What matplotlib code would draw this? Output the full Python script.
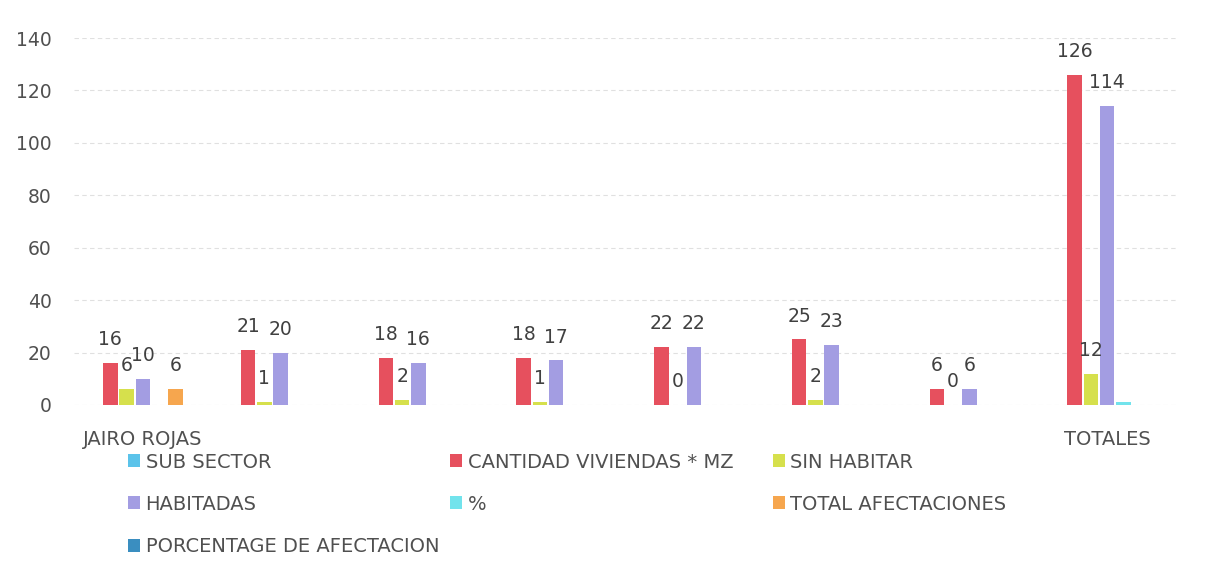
import numpy as np
import matplotlib
matplotlib.use("Agg")
import matplotlib.pyplot as plt
from matplotlib.patches import Patch

categories = ["JAIRO ROJAS", "", "", "", "", "", "", "TOTALES"]
series_names = ["SUB SECTOR", "CANTIDAD VIVIENDAS * MZ", "SIN HABITAR", "HABITADAS",
                "%", "TOTAL AFECTACIONES", "PORCENTAGE DE AFECTACION"]
sub_sector = [None, None, None, None, None, None, None, None]
cantidad = [16, 21, 18, 18, 22, 25, 6, 126]
sin_habitar = [6, 1, 2, 1, 0, 2, 0, 12]
habitadas = [10, 20, 16, 17, 22, 23, 6, 114]
porcentaje = [None, None, None, None, None, None, None, 1]
total_afect = [6, None, None, None, None, None, None, None]
porc_afect = [None, None, None, None, None, None, None, None]

all_series = [sub_sector, cantidad, sin_habitar, habitadas, porcentaje, total_afect, porc_afect]
colors = ["#5BC3EA", "#E6505E", "#D6E04C", "#A39DE2", "#72E3EC", "#F6A64E", "#3A8EC0"]
show_labels = [False, True, True, True, False, True, False]

plt.rcParams['font.family'] = ['DejaVu Sans']
FS = 13.5
FS_LEG = 14
fig = plt.figure(figsize=(12.15, 5.67), dpi=100)
ax = fig.add_axes([74 / 1215, 1 - 405 / 567, (1176 - 74) / 1215, (405 - 38) / 567])

x = np.arange(len(categories))
step = 0.118
width = 0.104
for i, (vals, c, lab, name) in enumerate(zip(all_series, colors, show_labels, series_names)):
    xs = x + (i - 3) * step
    v = np.array([np.nan if a is None else a for a in vals], dtype=float)
    ax.bar(xs, np.nan_to_num(v), width=width, color=c, label=name, zorder=3)
    if lab:
        for xx, vv in zip(xs, v):
            if not np.isnan(vv):
                ax.text(xx, vv + 5.3, f"{int(vv)}", ha="center", va="bottom",
                        fontsize=FS, color="#404040", zorder=4)

ax.set_xlim(-0.5, len(categories) - 0.5)
ax.set_ylim(0, 140)
ax.set_yticks(range(0, 141, 20))
ax.set_xticks(x)
ax.set_xticklabels(categories)
ax.yaxis.grid(True, color="#e0e0e0", linewidth=0.8, linestyle=(0, (4, 3)))
ax.set_axisbelow(True)
for s in ax.spines.values():
    s.set_visible(False)
ax.tick_params(axis="both", length=0, labelsize=FS, labelcolor="#505050")
ax.tick_params(axis="x", labelsize=FS_LEG, pad=18)
ax.tick_params(axis="y", pad=16)

# legend: row-wise layout, three columns at fixed positions
col_x = [128, 450, 773]
row_y = [462, 504, 547]
for idx, (name, c) in enumerate(zip(series_names, colors)):
    r, col = divmod(idx, 3)
    h = Patch(facecolor=c, edgecolor="none")
    fig.legend([h], [name], loc="center left",
               bbox_to_anchor=(col_x[col] / 1215, 1 - row_y[r] / 567),
               frameon=False, fontsize=FS_LEG, labelcolor="#505050",
               handlelength=0.6, handleheight=0.6, handletextpad=0.3,
               borderpad=0, borderaxespad=0)

fig.savefig("out.png", dpi=100, facecolor="white")
